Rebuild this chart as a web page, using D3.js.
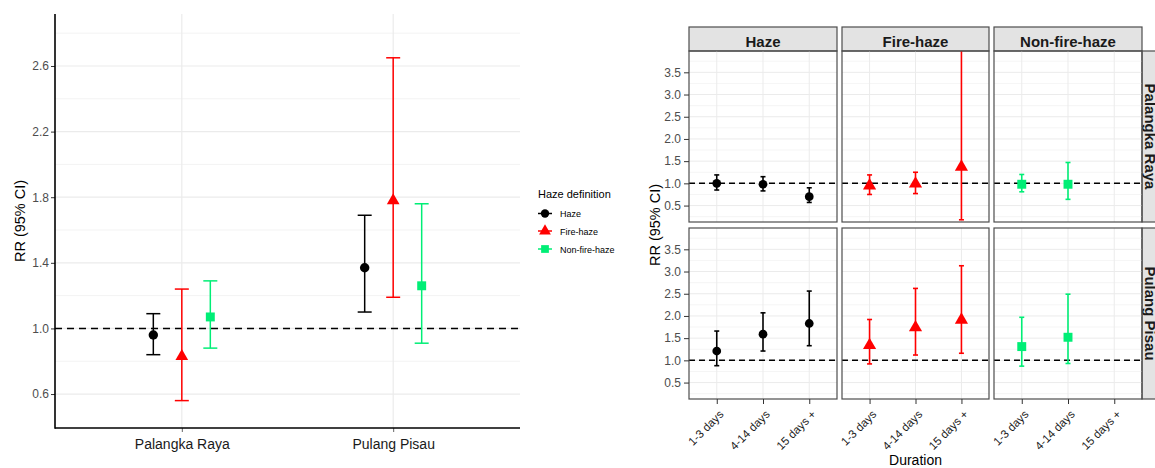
<!DOCTYPE html>
<html>
<head>
<meta charset="utf-8">
<script src="https://cdn.jsdelivr.net/npm/d3@7"></script>
<style>
  body { margin: 0; background: #fff; }
  svg { font-family: "Liberation Sans", Arial, sans-serif; }
</style>
</head>
<body>
<svg id="chart" width="1155" height="468"></svg>
<script>
// ---- data ----
const sites = ['Palangka Raya', 'Pulang Pisau'];
const definitions = ['Haze', 'Fire-haze', 'Non-fire-haze'];
const durations = ['1-3 days', '4-14 days', '15 days +'];

// overall RR, [site][definition]
const overallEst  = [[0.96, 0.83, 1.07], [1.37, 1.78, 1.26]];
const overallLow  = [[0.84, 0.56, 0.88], [1.10, 1.19, 0.91]];
const overallHigh = [[1.09, 1.24, 1.29], [1.69, 2.65, 1.76]];

// RR by duration, [site][definition][duration]
const durEst = [
  [[1.00, 0.98, 0.70], [0.95, 0.99, 1.37], [0.98, 0.98, null]],
  [[1.21, 1.59, 1.83], [1.34, 1.74, 1.91], [1.31, 1.52, null]]
];
const durLow = [
  [[0.85, 0.83, 0.57], [0.75, 0.77, 0.18], [0.81, 0.64, null]],
  [[0.88, 1.21, 1.33], [0.92, 1.12, 1.16], [0.87, 0.93, null]]
];
const durHigh = [
  [[1.19, 1.15, 0.90], [1.19, 1.25, 10.4], [1.20, 1.47, null]],
  [[1.66, 2.07, 2.56], [1.92, 2.62, 3.13], [1.97, 2.49, null]]
];

const leftTicks = [0.6, 1.0, 1.4, 1.8, 2.2, 2.6];
const leftMinor = [0.8, 1.2, 1.6, 2.0, 2.4, 2.8];
const rightTicks = [0.5, 1.0, 1.5, 2.0, 2.5, 3.0, 3.5];
const rightMinor = [0.25, 0.75, 1.25, 1.75, 2.25, 2.75, 3.25, 3.75];

const colors = ['#000000', '#ff0000', '#00ee76'];
const shapes = [d3.symbolCircle, d3.symbolTriangle, d3.symbolSquare];

const svg = d3.select('#chart');
const gridMajor = '#ebebeb';
const gridMinor = '#f3f3f3';

// ---------------- left chart ----------------
const L = { left: 55, right: 520, top: 14, bottom: 428 };

const xL = d3.scalePoint().domain(sites).range([L.left, L.right]).padding(0.6);
const yL = d3.scaleLinear().domain([0.393, 2.917]).range([L.bottom, L.top]);
const dodge = d3.scalePoint().domain(definitions).range([-28.5, 28.5]);

const gL = svg.append('g');

gL.selectAll('.minor').data(leftMinor).enter().append('line')
  .attr('x1', L.left).attr('x2', L.right)
  .attr('y1', d => yL(d)).attr('y2', d => yL(d))
  .attr('stroke', gridMinor).attr('stroke-width', 1);
gL.selectAll('.major').data(leftTicks).enter().append('line')
  .attr('x1', L.left).attr('x2', L.right)
  .attr('y1', d => yL(d)).attr('y2', d => yL(d))
  .attr('stroke', gridMajor).attr('stroke-width', 1.2);
gL.selectAll('.vgrid').data(sites).enter().append('line')
  .attr('x1', d => xL(d)).attr('x2', d => xL(d))
  .attr('y1', L.top).attr('y2', L.bottom)
  .attr('stroke', gridMajor).attr('stroke-width', 1.2);

gL.append('line')
  .attr('x1', L.left).attr('x2', L.right)
  .attr('y1', yL(1)).attr('y2', yL(1))
  .attr('stroke', '#000').attr('stroke-width', 1.6)
  .attr('stroke-dasharray', '7,5');

sites.forEach((s, si) => {
  definitions.forEach((d, di) => {
    const x = xL(s) + dodge(d);
    const c = colors[di];
    const g = gL.append('g');
    g.append('line').attr('x1', x).attr('x2', x)
      .attr('y1', yL(overallLow[si][di])).attr('y2', yL(overallHigh[si][di]))
      .attr('stroke', c).attr('stroke-width', 1.5);
    [overallLow[si][di], overallHigh[si][di]].forEach(v => {
      g.append('line').attr('x1', x - 7).attr('x2', x + 7)
        .attr('y1', yL(v)).attr('y2', yL(v))
        .attr('stroke', c).attr('stroke-width', 1.5);
    });
    const size = [70, 70, 80][di];
    g.append('path')
      .attr('d', d3.symbol().type(shapes[di]).size(size)())
      .attr('transform', `translate(${x},${yL(overallEst[si][di])})`)
      .attr('fill', c);
  });
});

const axL = gL.append('g').attr('transform', `translate(${L.left},0)`)
  .call(d3.axisLeft(yL).tickValues(leftTicks).tickFormat(d3.format('.1f')).tickSize(4));
axL.select('.domain').remove();
axL.selectAll('line').attr('stroke', '#333');
axL.selectAll('text').attr('fill', '#4d4d4d').style('font-size', '12px').attr('x', -6);

const bxL = gL.append('g').attr('transform', `translate(0,${L.bottom})`)
  .call(d3.axisBottom(xL).tickSize(4));
bxL.select('.domain').remove();
bxL.selectAll('line').attr('stroke', '#666');
bxL.selectAll('text').attr('fill', '#1a1a1a').style('font-size', '14px').attr('y', 11);

gL.append('line').attr('x1', L.left).attr('x2', L.left)
  .attr('y1', L.top).attr('y2', L.bottom + 0.7)
  .attr('stroke', '#000').attr('stroke-width', 1.6);
gL.append('line').attr('x1', L.left).attr('x2', L.right)
  .attr('y1', L.bottom).attr('y2', L.bottom)
  .attr('stroke', '#000').attr('stroke-width', 1.6);

gL.append('text')
  .attr('transform', `translate(25,${(L.top + L.bottom) / 2}) rotate(-90)`)
  .attr('text-anchor', 'middle')
  .style('font-size', '14.5px').attr('fill', '#000')
  .text('RR (95% CI)');

// legend
const leg = svg.append('g').attr('transform', 'translate(538,0)');
leg.append('text').attr('x', 0).attr('y', 198)
  .style('font-size', '11px').attr('fill', '#000').text('Haze definition');
definitions.forEach((d, di) => {
  const y = [213.5, 231, 249][di];
  leg.append('line').attr('x1', 0).attr('x2', 14).attr('y1', y).attr('y2', y)
    .attr('stroke', colors[di]).attr('stroke-width', 1.5);
  leg.append('path')
    .attr('d', d3.symbol().type(shapes[di]).size([55, 60, 60][di])())
    .attr('transform', `translate(7,${y})`)
    .attr('fill', colors[di]);
  leg.append('text').attr('x', 22).attr('y', y + 3.5)
    .style('font-size', '9px').attr('fill', '#000').text(d);
});

// ---------------- right facet grid ----------------
const cols = [{ l: 689, r: 837 }, { l: 842, r: 989 }, { l: 994, r: 1142 }];
const rows = [{ t: 51, b: 222 }, { t: 228, b: 399 }];
const stripTop = 27;
const stripRight = 1167;

const gR = svg.append('g');

// top strips
definitions.forEach((d, ci) => {
  const c = cols[ci];
  gR.append('rect').attr('x', c.l).attr('y', stripTop)
    .attr('width', c.r - c.l).attr('height', rows[0].t - stripTop)
    .attr('fill', '#e3e3e3').attr('stroke', '#4d4d4d').attr('stroke-width', 1.2);
  gR.append('text').attr('x', (c.l + c.r) / 2).attr('y', 46.5)
    .attr('text-anchor', 'middle').style('font-size', '15px').style('font-weight', 'bold')
    .attr('fill', '#1a1a1a').text(d);
});
// right strips (cut by the page edge, as in the original)
sites.forEach((s, ri) => {
  const r = rows[ri];
  gR.append('rect').attr('x', cols[2].r).attr('y', r.t)
    .attr('width', stripRight - cols[2].r).attr('height', r.b - r.t)
    .attr('fill', '#e3e3e3').attr('stroke', '#4d4d4d').attr('stroke-width', 1.2);
  gR.append('text')
    .attr('transform', `translate(${cols[2].r + 3},${(r.t + r.b) / 2}) rotate(90)`)
    .attr('text-anchor', 'middle').style('font-size', '15px').style('font-weight', 'bold')
    .attr('fill', '#1a1a1a').text(s);
});

const capHalf = 2.5;
rows.forEach((r, ri) => {
  const yR = d3.scaleLinear().domain([0.13, 3.98]).range([r.b, r.t]);
  cols.forEach((c, ci) => {
    const xR = d3.scalePoint().domain(durations).range([c.l, c.r]).padding(0.6);
    const clipId = `clip-${ri}-${ci}`;
    svg.append('clipPath').attr('id', clipId).append('rect')
      .attr('x', c.l).attr('y', r.t).attr('width', c.r - c.l).attr('height', r.b - r.t);
    const p = gR.append('g');
    const inner = p.append('g').attr('clip-path', `url(#${clipId})`);

    inner.selectAll('.mn').data(rightMinor).enter().append('line')
      .attr('x1', c.l).attr('x2', c.r).attr('y1', d => yR(d)).attr('y2', d => yR(d))
      .attr('stroke', gridMinor).attr('stroke-width', 0.8);
    inner.selectAll('.mj').data(rightTicks).enter().append('line')
      .attr('x1', c.l).attr('x2', c.r).attr('y1', d => yR(d)).attr('y2', d => yR(d))
      .attr('stroke', gridMajor).attr('stroke-width', 1);
    inner.selectAll('.vg').data(durations).enter().append('line')
      .attr('x1', d => xR(d)).attr('x2', d => xR(d)).attr('y1', r.t).attr('y2', r.b)
      .attr('stroke', gridMajor).attr('stroke-width', 1);

    inner.append('line').attr('x1', c.l).attr('x2', c.r)
      .attr('y1', yR(1)).attr('y2', yR(1))
      .attr('stroke', '#000').attr('stroke-width', 1.5).attr('stroke-dasharray', '6,4');

    durations.forEach((du, k) => {
      const est = durEst[ri][ci][k];
      if (est === null) return;
      const x = xR(du);
      const col = colors[ci];
      const lo = durLow[ri][ci][k], hi = durHigh[ri][ci][k];
      inner.append('line').attr('x1', x).attr('x2', x)
        .attr('y1', yR(lo)).attr('y2', yR(hi))
        .attr('stroke', col).attr('stroke-width', 1.6);
      [lo, hi].forEach(v => {
        inner.append('line').attr('x1', x - capHalf).attr('x2', x + capHalf)
          .attr('y1', yR(v)).attr('y2', yR(v))
          .attr('stroke', col).attr('stroke-width', 1.6);
      });
      inner.append('path')
        .attr('d', d3.symbol().type(shapes[ci]).size([60, 75, 80][ci])())
        .attr('transform', `translate(${x},${yR(est)})`)
        .attr('fill', col);
    });

    p.append('rect').attr('x', c.l).attr('y', r.t)
      .attr('width', c.r - c.l).attr('height', r.b - r.t)
      .attr('fill', 'none').attr('stroke', '#4d4d4d').attr('stroke-width', 1.2);

    if (ci === 0) {
      const ax = p.append('g').attr('transform', `translate(${c.l},0)`)
        .call(d3.axisLeft(yR).tickValues(rightTicks).tickFormat(d3.format('.1f')).tickSize(5));
      ax.select('.domain').remove();
      ax.selectAll('line').attr('stroke', '#333');
      ax.selectAll('text').attr('fill', '#4d4d4d').style('font-size', '12px').attr('x', -8);
    }
    if (ri === 1) {
      const bx = p.append('g').attr('transform', `translate(0,${r.b})`)
        .call(d3.axisBottom(xR).tickSize(5));
      bx.select('.domain').remove();
      bx.selectAll('line').attr('stroke', '#333');
      bx.selectAll('text')
        .attr('fill', '#1a1a1a').style('font-size', '11.5px')
        .attr('text-anchor', 'end')
        .attr('dy', null).attr('y', 0)
        .attr('transform', 'translate(7,16) rotate(-45)');
    }
  });
});

gR.append('text')
  .attr('transform', `translate(660,${(rows[0].t + rows[1].b) / 2}) rotate(-90)`)
  .attr('text-anchor', 'middle').style('font-size', '14.5px').attr('fill', '#000')
  .text('RR (95% CI)');
gR.append('text').attr('x', (cols[0].l + cols[2].r) / 2).attr('y', 465)
  .attr('text-anchor', 'middle').style('font-size', '14px').attr('fill', '#000')
  .text('Duration');
</script>
</body>
</html>
